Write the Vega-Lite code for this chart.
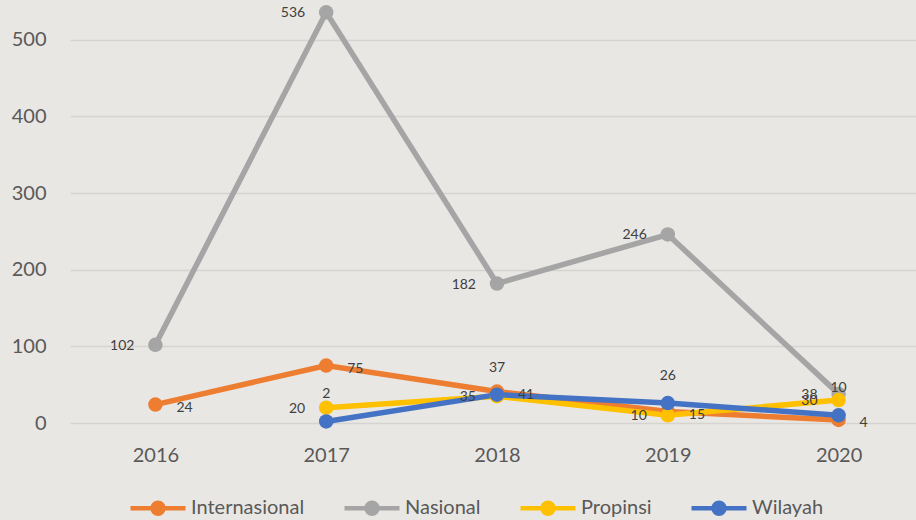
{
  "$schema": "https://vega.github.io/schema/vega-lite/v6.json",
  "width": 846,
  "height": 423,
  "autosize": "none",
  "padding": {"left": 70, "top": 0, "right": 0, "bottom": 97},
  "background": "#E9E7E3",
  "config": {
    "view": {"stroke": null},
    "font": "Lato",
    "axis": {"labelFont": "Lato", "labelColor": "#595959", "labelFontSize": 20, "domain": false, "ticks": false, "title": null}
  },
  "data": {
    "values": [
      {"year": "2016", "series": "Internasional", "value": 24},
      {"year": "2017", "series": "Internasional", "value": 75},
      {"year": "2018", "series": "Internasional", "value": 41},
      {"year": "2019", "series": "Internasional", "value": 15},
      {"year": "2020", "series": "Internasional", "value": 4},
      {"year": "2016", "series": "Nasional", "value": 102},
      {"year": "2017", "series": "Nasional", "value": 536},
      {"year": "2018", "series": "Nasional", "value": 182},
      {"year": "2019", "series": "Nasional", "value": 246},
      {"year": "2020", "series": "Nasional", "value": 38},
      {"year": "2017", "series": "Propinsi", "value": 20},
      {"year": "2018", "series": "Propinsi", "value": 35},
      {"year": "2019", "series": "Propinsi", "value": 10},
      {"year": "2020", "series": "Propinsi", "value": 30},
      {"year": "2017", "series": "Wilayah", "value": 2},
      {"year": "2018", "series": "Wilayah", "value": 37},
      {"year": "2019", "series": "Wilayah", "value": 26},
      {"year": "2020", "series": "Wilayah", "value": 10}
    ]
  },
  "encoding": {
    "x": {"field": "year", "type": "ordinal", "scale": {"type": "point", "range": [0, 854], "padding": 0.5},
      "axis": {"labelAngle": 0, "labelPadding": 22, "grid": false}},
    "y": {"field": "value", "type": "quantitative", "scale": {"domain": [0, 552], "nice": false},
      "axis": {"values": [0, 100, 200, 300, 400, 500], "grid": true, "gridColor": "#D6D4D0", "gridWidth": 1.5, "labelPadding": 24}}
  },
  "layer": [
    {
      "mark": {"type": "line", "strokeWidth": 5.5},
      "encoding": {
        "color": {"field": "series", "type": "nominal",
          "scale": {"domain": ["Internasional", "Nasional", "Propinsi", "Wilayah"], "range": ["#ED7D31", "#A5A5A5", "#FFC000", "#4472C4"]},
          "legend": {"title": null, "orient": "none", "direction": "horizontal", "legendX": 58, "legendY": 478,
            "symbolType": "M-1,0H1M0.2,0A0.2,0.2,0,1,1,-0.2,0A0.2,0.2,0,1,1,0.2,0Z",
            "symbolSize": 3025, "symbolStrokeWidth": 4.5, "labelFont": "Lato", "labelFontSize": 20, "labelColor": "#595959",
            "labelOffset": 3, "columnPadding": 30, "padding": 0,
            "encode": {"symbols": {"update": {"fill": {"scale": "color", "field": "value"}, "stroke": {"scale": "color", "field": "value"}, "opacity": {"value": 1}}}}}
        }
      }
    },
    {
      "mark": {"type": "point", "filled": true, "size": 210, "opacity": 1},
      "encoding": {"color": {"field": "series", "type": "nominal", "legend": null}}
    },
    {
      "transform": [{"filter": "datum.series == 'Internasional'"}],
      "mark": {"type": "text", "align": "left", "dx": 21, "dy": 3, "fontSize": 14, "color": "#404040", "font": "Lato"},
      "encoding": {"text": {"field": "value", "type": "quantitative"}}
    },
    {
      "transform": [{"filter": "datum.series == 'Nasional' || datum.series == 'Propinsi'"}],
      "mark": {"type": "text", "align": "right", "dx": -21, "dy": 1, "fontSize": 14, "color": "#404040", "font": "Lato"},
      "encoding": {"text": {"field": "value", "type": "quantitative"}}
    },
    {
      "transform": [{"filter": "datum.series == 'Wilayah'"}],
      "mark": {"type": "text", "align": "center", "dy": -27, "fontSize": 14, "color": "#404040", "font": "Lato"},
      "encoding": {"text": {"field": "value", "type": "quantitative"}}
    }
  ]
}
